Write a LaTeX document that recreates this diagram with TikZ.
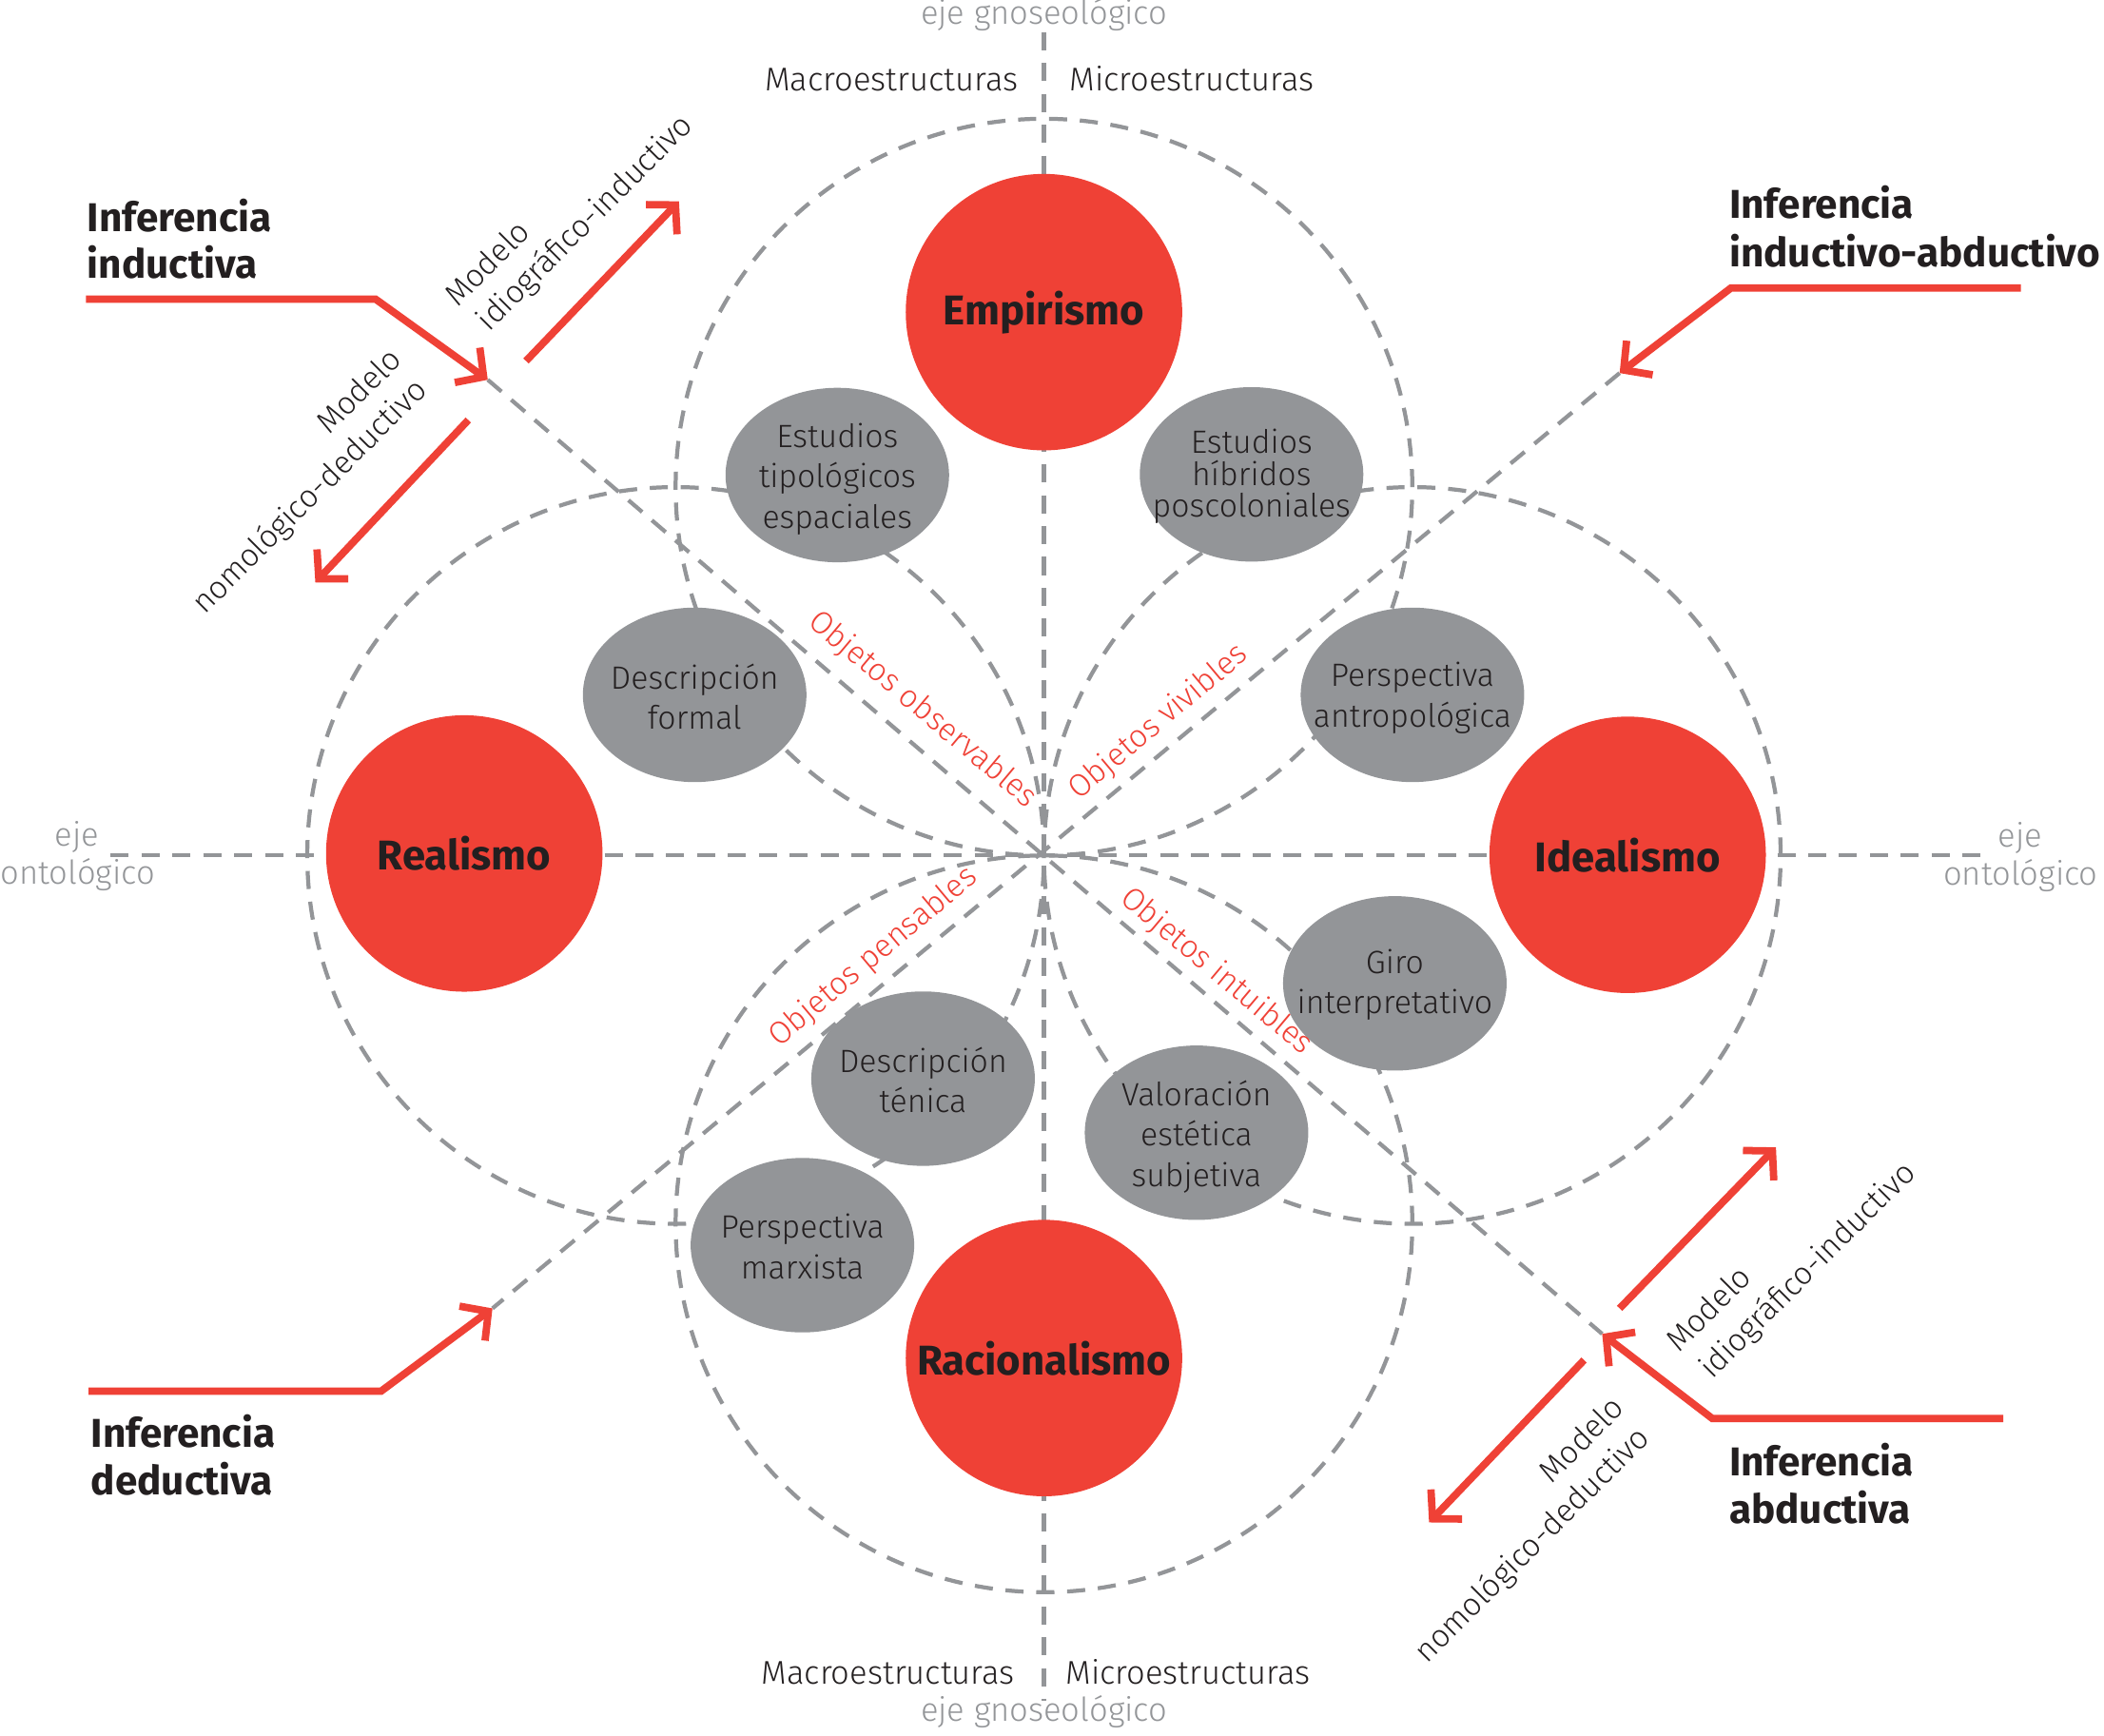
\documentclass[tikz,border=0pt]{standalone}
\usepackage{fontspec}
\setmainfont{Fira Sans}[UprightFont=* Light, BoldFont=* Bold]
\usetikzlibrary{arrows.meta,shapes.geometric}
\definecolor{redc}{HTML}{EF4136}
\definecolor{grayc}{HTML}{939598}
\definecolor{txt}{HTML}{231F20}
\begin{document}
\begin{tikzpicture}[x=1pt,y=-1pt,
  dashln/.style={draw=grayc, line width=3pt, dash pattern=on 13.5pt off 9.5pt},
  redln/.style={draw=redc, line width=5.5pt, line join=miter},
  redarr/.style={redln, -{Straight Barb[length=15pt,width=32pt,sharp]}},
  bigc/.style={circle, fill=redc, minimum size=206pt, inner sep=0pt, text=txt,
    font=\fontsize{31}{36}\selectfont\bfseries},
  gtxt/.style={align=center, inner sep=0pt, text=txt, font=\fontsize{24}{30}\selectfont},
  axtxt/.style={inner sep=0pt, text=grayc, font=\fontsize{24.5}{28}\selectfont},
  strtxt/.style={inner sep=0pt, text=txt, font=\fontsize{24.5}{28}\selectfont},
  objtxt/.style={inner sep=0pt, anchor=mid, text=redc, font=\fontsize{23.5}{28}\selectfont},
  modtxt/.style={inner sep=0pt, anchor=mid, rotate=45, text=txt, font=\fontsize{23.5}{28}\selectfont},
  inftxt/.style={inner sep=0pt, anchor=base west, text=txt, font=\fontsize{30}{35}\selectfont\bfseries},
  gell/.style={fill=grayc}
]
\useasboundingbox (0,0) rectangle (1568,1293);

% coordinates
\coordinate (C) at (778,637.5);
\coordinate (iA) at (64,223);   \coordinate (iB) at (280,223);   \coordinate (iT) at (363.5,283);
\coordinate (iuS) at (392,269); \coordinate (iuT) at (506,150);
\coordinate (idS) at (349,313); \coordinate (idT) at (235,434);
\coordinate (rA) at (1506,214.6); \coordinate (rB) at (1290,214.6); \coordinate (rT) at (1207,278);
\coordinate (lA) at (66,1036.7); \coordinate (lB) at (284,1036.7); \coordinate (lT) at (367,975);
\coordinate (bA) at (1493,1057); \coordinate (bB) at (1276,1057); \coordinate (bT) at (1194,994);
\coordinate (buS) at (1207,975); \coordinate (buT) at (1323.5,855);
\coordinate (bdS) at (1180.5,1013.5); \coordinate (bdT) at (1065,1134.5);
\coordinate (vTop) at (778,24); \coordinate (vBot) at (778,1267.5);
\coordinate (hL) at (82.5,637.5); \coordinate (hR) at (1478,637.5);

% dashed circles
\draw[dashln] (778,363) circle [radius=274.5pt];
\draw[dashln] (778,912) circle [radius=274.5pt];
\draw[dashln] (503.5,637.5) circle [radius=274.5pt];
\draw[dashln] (1052.5,637.5) circle [radius=274.5pt];
% axes
\draw[dashln] (vTop) -- (vBot);
\draw[dashln] (hL) -- (hR);
% diagonals
\draw[dashln] (iT) -- (bT);
\draw[dashln] (rT) -- (lT);

% red arrows
\draw[redarr] (iA) -- (iB) -- (iT);
\draw[redarr] (iuS) -- (iuT);
\draw[redarr] (idS) -- (idT);
\draw[redarr] (rA) -- (rB) -- (rT);
\draw[redarr] (lA) -- (lB) -- (lT);
\draw[redarr] (bA) -- (bB) -- (bT);
\draw[redarr] (buS) -- (buT);
\draw[redarr] (bdS) -- (bdT);

% gray ellipses
\fill[gell] (624,354) ellipse [x radius=83.3pt, y radius=65pt];
\fill[gell] (932.7,353.5) ellipse [x radius=83.3pt, y radius=65pt];
\fill[gell] (517.7,517.8) ellipse [x radius=83.3pt, y radius=65pt];
\fill[gell] (1052.6,517.8) ellipse [x radius=83.3pt, y radius=65pt];
\fill[gell] (1039.5,732.8) ellipse [x radius=83.3pt, y radius=65pt];
\fill[gell] (891.7,844.1) ellipse [x radius=83.3pt, y radius=65pt];
\fill[gell] (687.9,803.8) ellipse [x radius=83.3pt, y radius=65pt];
\fill[gell] (598,927.9) ellipse [x radius=83.3pt, y radius=65pt];

\node[gtxt] (t1) at (624,357) {Estudios\\tipológicos\\espaciales};
\node[gtxt, font=\fontsize{24}{24}\selectfont] (t2) at (932.7,355) {Estudios\\híbridos\\poscoloniales};
\node[gtxt] (t3) at (517.7,519) {Descripción\\formal};
\node[gtxt] (t4) at (1052.6,520) {Perspectiva\\antropológica};
\node[gtxt] (t5) at (1039.5,734) {Giro\\interpretativo};
\node[gtxt] (t6) at (891.7,847) {Valoración\\estética\\subjetiva};
\node[gtxt] (t7) at (687.9,805) {Descripción\\ténica};
\node[gtxt] (t8) at (598,929) {Perspectiva\\marxista};

% red circles
\node[bigc] (emp) at (778,232.6) {Empirismo};
\node[bigc] (rea) at (346,636) {Realismo};
\node[bigc] (ide) at (1213,637) {Idealismo};
\node[bigc] (rac) at (778,1012) {Racionalismo};

% objetos labels
\node[objtxt, rotate=-40] (o1) at (685,532) {Objetos observables};
\node[objtxt, rotate=40] (o2) at (866,541) {Objetos vivibles};
\node[objtxt, rotate=40] (o3) at (653.5,716) {Objetos pensables};
\node[objtxt, rotate=-40] (o4) at (904,727) {Objetos intuibles};

% modelo labels
\node[modtxt] (m1) at (367,200) {Modelo};
\node[modtxt] (m2) at (439.4,169.3) {idiográfico-inductivo};
\node[modtxt] (m3) at (271.3,295.1) {Modelo};
\node[modtxt] (m4) at (234.2,373.4) {nomológico-deductivo};
\node[modtxt] (m5) at (1277,979.1) {Modelo};
\node[modtxt] (m6) at (1350.5,949.9) {idiográfico-inductivo};
\node[modtxt] (m7) at (1182.3,1076.5) {Modelo};
\node[modtxt] (m8) at (1145.3,1154.7) {nomológico-deductivo};

% inferencia labels
\node[inftxt] (f1) at (65,172.5) {Inferencia};
\node[inftxt] (f2) at (65,207) {inductiva};
\node[inftxt] (f3) at (1288.6,163) {Inferencia};
\node[inftxt] (f4) at (1288.6,198.7) {inductivo-abductivo};
\node[inftxt] (f5) at (67.6,1078.7) {Inferencia};
\node[inftxt] (f6) at (67.6,1114.2) {deductiva};
\node[inftxt] (f7) at (1288.5,1100) {Inferencia};
\node[inftxt] (f8) at (1288.5,1135) {abductiva};

% axis labels
\node[axtxt, anchor=base] (g1) at (778,18.4) {eje gnoseológico};
\node[strtxt, anchor=base east] (s1) at (759,67.8) {Macroestructuras};
\node[strtxt, anchor=base west] (s2) at (797,67.8) {Microestructuras};
\node[strtxt, anchor=base east] (s3) at (756.4,1254.7) {Macroestructuras};
\node[strtxt, anchor=base west] (s4) at (794,1254.7) {Microestructuras};
\node[axtxt, anchor=base] (g2) at (778,1283) {eje gnoseológico};
\node[axtxt, anchor=base] (e1) at (57.5,630.5) {eje};
\node[axtxt, anchor=base] (e2) at (57.8,658.9) {ontológico};
\node[axtxt, anchor=base] (e3) at (1505.7,631) {eje};
\node[axtxt, anchor=base] (e4) at (1505.9,659.3) {ontológico};
\end{tikzpicture}
\end{document}
